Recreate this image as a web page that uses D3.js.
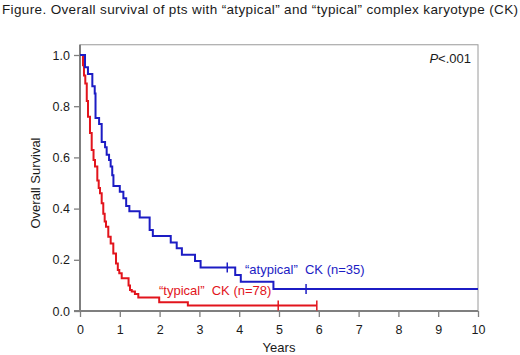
<!DOCTYPE html>
<html>
<head>
<meta charset="utf-8">
<script src="https://cdn.jsdelivr.net/npm/d3@7"></script>
<style>
  body { margin: 0; background: #fff; }
  text { font-family: "Liberation Sans", Arial, sans-serif; }
</style>
</head>
<body>
<div class="canvas"></div>
<script>
// survival curves (years, survival proportion)
const atypicalTimes = [0, 0.126, 0.2, 0.31, 0.37, 0.39, 0.48, 0.545, 0.63, 0.67, 0.73, 0.77, 0.81, 0.84, 1.0, 1.09, 1.16, 1.24, 1.5, 1.75, 1.83, 2.28, 2.43, 2.56, 2.89, 3.03, 3.9, 4.04, 4.86, 10];
const atypicalSurv = [1, 0.952, 0.926, 0.878, 0.85, 0.754, 0.73, 0.66, 0.64, 0.61, 0.59, 0.564, 0.53, 0.488, 0.466, 0.44, 0.41, 0.39, 0.365, 0.316, 0.293, 0.268, 0.245, 0.22, 0.195, 0.17, 0.141, 0.114, 0.086, 0.086];
const atypicalCensored = [3.7, 5.68];

const typicalTimes = [0, 0.075, 0.1, 0.133, 0.17, 0.201, 0.251, 0.294, 0.34, 0.377, 0.435, 0.47, 0.503, 0.545, 0.585, 0.62, 0.653, 0.711, 0.771, 0.837, 0.905, 0.95, 0.987, 1.048, 1.22, 1.256, 1.3, 1.38, 1.465, 1.99, 2.71, 5.95];
const typicalSurv = [1, 0.96, 0.92, 0.889, 0.82, 0.759, 0.695, 0.629, 0.59, 0.564, 0.51, 0.48, 0.46, 0.421, 0.38, 0.35, 0.329, 0.29, 0.264, 0.225, 0.186, 0.16, 0.147, 0.128, 0.1, 0.082, 0.076, 0.066, 0.053, 0.034, 0.021, 0.021];
const typicalCensored = [4.98, 5.95];

const xTicks = [0, 1, 2, 3, 4, 5, 6, 7, 8, 9, 10];
const yTicks = [0, 0.2, 0.4, 0.6, 0.8, 1.0];

const blue = "#1c1cc4";
const red = "#e2141c";
const grey = "#7f7f7f";

const width = 520;
const height = 355;

const svg = d3
  .select(".canvas")
  .append("svg")
  .attr("width", width)
  .attr("height", height);

const x = d3.scaleLinear().domain([0, 10]).range([80, 478]);
const y = d3.scaleLinear().domain([0, 1]).range([311, 55]);

// title
svg
  .append("text")
  .attr("x", 2)
  .attr("y", 14)
  .attr("textLength", 516)
  .attr("lengthAdjust", "spacing")
  .style("font-size", "13.5px")
  .attr("fill", "#1a1a1a")
  .text("Figure. Overall survival of pts with \u201catypical\u201d and \u201ctypical\u201d complex karyotype (CK)");

// frame
svg
  .append("rect")
  .attr("x", x(0))
  .attr("y", y(1.04))
  .attr("width", x(10) - x(0))
  .attr("height", y(0) - y(1.04))
  .attr("fill", "none")
  .attr("stroke", "#9a9a9a")
  .attr("stroke-width", 1);

// axes
const xAxis = svg
  .append("g")
  .attr("transform", `translate(0,${y(0)})`)
  .call(d3.axisBottom(x).tickValues(xTicks).tickFormat(d3.format("d")).tickSize(6).tickPadding(8));

const yAxis = svg
  .append("g")
  .attr("transform", `translate(${x(0)},0)`)
  .call(d3.axisLeft(y).tickValues(yTicks).tickFormat(d3.format(".1f")).tickSize(6).tickPadding(4));

[xAxis, yAxis].forEach((axis) => {
  axis.select(".domain").remove();
  axis.selectAll(".tick line").attr("stroke", grey).attr("stroke-width", 1.3);
  axis.selectAll(".tick text").attr("fill", "#1a1a1a").style("font-size", "12.5px").style("font-family", "Liberation Sans, Arial, sans-serif");
});

svg
  .append("line")
  .attr("x1", x(0)).attr("x2", x(0))
  .attr("y1", y(1.04)).attr("y2", y(0))
  .attr("stroke", grey).attr("stroke-width", 2);

svg
  .append("line")
  .attr("x1", x(0) - 6).attr("x2", x(10))
  .attr("y1", y(0)).attr("y2", y(0))
  .attr("stroke", grey).attr("stroke-width", 2);

// axis titles
svg
  .append("text")
  .attr("x", (x(0) + x(10)) / 2)
  .attr("y", 352)
  .attr("text-anchor", "middle")
  .style("font-size", "13px")
  .attr("fill", "#1a1a1a")
  .text("Years");

svg
  .append("text")
  .attr("transform", `translate(40,${(y(0) + y(1)) / 2}) rotate(-90)`)
  .attr("text-anchor", "middle")
  .style("font-size", "13px")
  .attr("fill", "#1a1a1a")
  .text("Overall Survival");

// curves
const line = d3
  .line()
  .x((d) => x(d[0]))
  .y((d) => y(d[1]))
  .curve(d3.curveStepAfter);

function stepAt(times, surv, t) {
  const i = d3.bisectRight(times, t) - 1;
  return surv[Math.max(0, i)];
}

const curves = [
  { times: typicalTimes, surv: typicalSurv, censored: typicalCensored, color: red },
  { times: atypicalTimes, surv: atypicalSurv, censored: atypicalCensored, color: blue }
];

curves.forEach((c) => {
  svg
    .append("path")
    .datum(d3.zip(c.times, c.surv))
    .attr("d", line)
    .attr("fill", "none")
    .attr("stroke", c.color)
    .attr("stroke-width", 2);

  svg
    .selectAll(null)
    .data(c.censored)
    .enter()
    .append("line")
    .attr("x1", (t) => x(t))
    .attr("x2", (t) => x(t))
    .attr("y1", (t) => y(stepAt(c.times, c.surv, t)) - 5)
    .attr("y2", (t) => y(stepAt(c.times, c.surv, t)) + 5)
    .attr("stroke", c.color)
    .attr("stroke-width", 1.5);
});

// curve labels
svg
  .append("text")
  .attr("x", 245)
  .attr("y", 274)
  .attr("fill", blue)
  .style("font-size", "13px")
  .style("white-space", "pre")
  .text("\u201catypical\u201d  CK (n=35)");

svg
  .append("text")
  .attr("x", 159)
  .attr("y", 295)
  .attr("fill", red)
  .style("font-size", "13px")
  .style("white-space", "pre")
  .text("\u201ctypical\u201d  CK (n=78)");

// p value
const p = svg
  .append("text")
  .attr("x", 471)
  .attr("y", 63)
  .attr("text-anchor", "end")
  .style("font-size", "13px")
  .attr("fill", "#1a1a1a");
p.append("tspan").style("font-style", "italic").text("P");
p.append("tspan").text("<.001");
</script>
</body>
</html>
